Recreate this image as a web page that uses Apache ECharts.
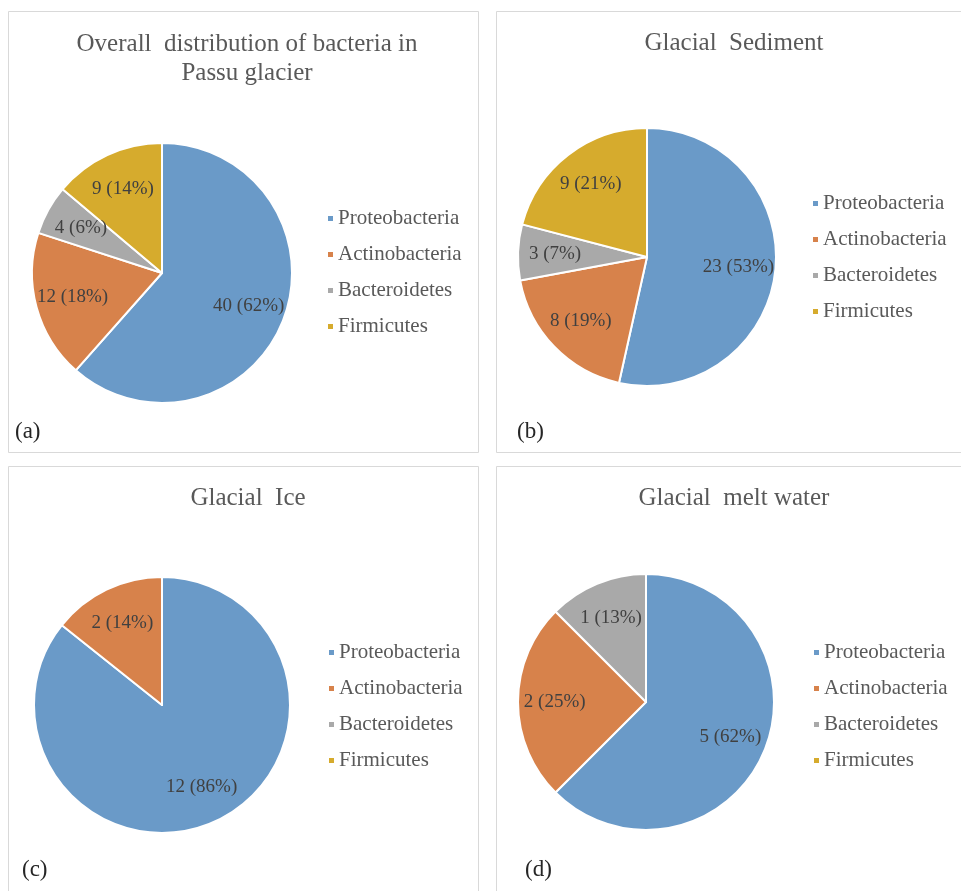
<!DOCTYPE html>
<html>
<head>
<meta charset="utf-8">
<title>Bacterial phyla in Passu glacier</title>
<script src="https://cdn.jsdelivr.net/npm/echarts@6/dist/echarts.min.js"></script>
<style>
  html, body { margin: 0; padding: 0; background: #ffffff; }
  #chart { width: 961px; height: 891px; }
</style>
</head>
<body>
<div id="chart"></div>
<script>
// Phyla shown in every panel (legend order = slice order, clockwise from 12 o'clock)
const categories = ['Proteobacteria', 'Actinobacteria', 'Bacteroidetes', 'Firmicutes'];

// Isolate counts per phylum and the percentages printed beside them
const overallCounts  = [40, 12, 4, 9];
const overallPct     = [62, 18, 6, 14];
const sedimentCounts = [23, 8, 3, 9];
const sedimentPct    = [53, 19, 7, 21];
const iceCounts      = [12, 2, 0, 0];
const icePct         = [86, 14, 0, 0];
const meltCounts     = [5, 2, 1, 0];
const meltPct        = [62, 25, 13, 0];

const panelTitles = [
  'Overall  distribution of bacteria in\nPassu glacier',
  'Glacial  Sediment',
  'Glacial  Ice',
  'Glacial  melt water'
];
const panelTags = ['(a)', '(b)', '(c)', '(d)'];

const sliceColors = ['#6a9ac8', '#d7824b', '#a9a9a9', '#d6ab2d'];
const serif = '"Liberation Serif", "Times New Roman", serif';

// Panel geometry: frame, pie centre/radius, title, legend, tag
const panels = [
  { counts: overallCounts,  pct: overallPct,  frame: [8.5, 11.5],  center: [162, 273], r: 130,
    titleX: 247, titleY: 30,  legendX: 326, legendY: 208, tag: [15, 432] },
  { counts: sedimentCounts, pct: sedimentPct, frame: [496.5, 11.5], center: [647, 257], r: 129,
    titleX: 734, titleY: 29,  legendX: 811, legendY: 193, tag: [517, 432] },
  { counts: iceCounts,      pct: icePct,      frame: [8.5, 466.5], center: [162, 705], r: 128,
    titleX: 248, titleY: 484, legendX: 327, legendY: 642, tag: [22, 870] },
  { counts: meltCounts,     pct: meltPct,     frame: [496.5, 466.5], center: [646, 702], r: 128,
    titleX: 734, titleY: 484, legendX: 812, legendY: 642, tag: [525, 870] }
];

const chart = echarts.init(document.getElementById('chart'), null, { renderer: 'canvas' });

const titles = [], legends = [], series = [], graphics = [];

panels.forEach(function (p, i) {
  const data = categories.map(function (name, k) {
    return { name: name, value: p.counts[k], itemStyle: { color: sliceColors[k] } };
  });

  // panel frame
  graphics.push({
    type: 'rect', silent: true,
    shape: { x: p.frame[0], y: p.frame[1], width: 470, height: i < 2 ? 441 : 440 },
    style: { fill: null, stroke: '#d9d9d9', lineWidth: 1 }
  });
  // panel tag
  graphics.push({
    type: 'text', silent: true, x: p.tag[0], y: p.tag[1],
    style: { text: panelTags[i], font: '23px ' + serif, fill: '#262626',
             textVerticalAlign: 'middle', verticalAlign: 'middle' }
  });

  titles.push({
    text: panelTitles[i],
    left: p.titleX, top: p.titleY, textAlign: 'center', padding: 0,
    textStyle: { fontFamily: serif, fontSize: 25, fontWeight: 'normal', color: '#595959', lineHeight: 29 }
  });

  legends.push({
    data: categories.slice(),
    orient: 'vertical', left: p.legendX, top: p.legendY, padding: 0,
    icon: 'rect', itemWidth: 7, itemHeight: 7, itemGap: 15,
    selectedMode: false,
    textStyle: { fontFamily: serif, fontSize: 21, color: '#595959', lineHeight: 21, padding: [0, 0, 0, -1] }
  });

  // slices
  series.push({
    type: 'pie', center: p.center, radius: [0, p.r],
    startAngle: 90, clockwise: true, animation: false,
    itemStyle: { borderColor: '#ffffff', borderWidth: 2 },
    label: { show: false }, labelLine: { show: false },
    emphasis: { disabled: true },
    data: data
  });

  // value labels, set on a ring so they sit at ~0.7 of the radius
  series.push({
    type: 'pie', center: p.center, radius: [p.r * 0.38, p.r],
    startAngle: 90, clockwise: true, animation: false, silent: true,
    legendHoverLink: false,
    itemStyle: { color: 'rgba(0,0,0,0)', borderWidth: 0 },
    label: {
      show: true, position: 'inside',
      fontFamily: serif, fontSize: 19, color: '#404040',
      formatter: function (d) {
        return d.value ? d.value + ' (' + p.pct[d.dataIndex] + '%)' : '';
      }
    },
    labelLine: { show: false },
    emphasis: { disabled: true },
    data: data.map(function (d) { return { name: d.name, value: d.value }; })
  });
});

chart.setOption({
  backgroundColor: '#ffffff',
  animation: false,
  title: titles,
  legend: legends,
  graphic: graphics,
  series: series
});
</script>
</body>
</html>
